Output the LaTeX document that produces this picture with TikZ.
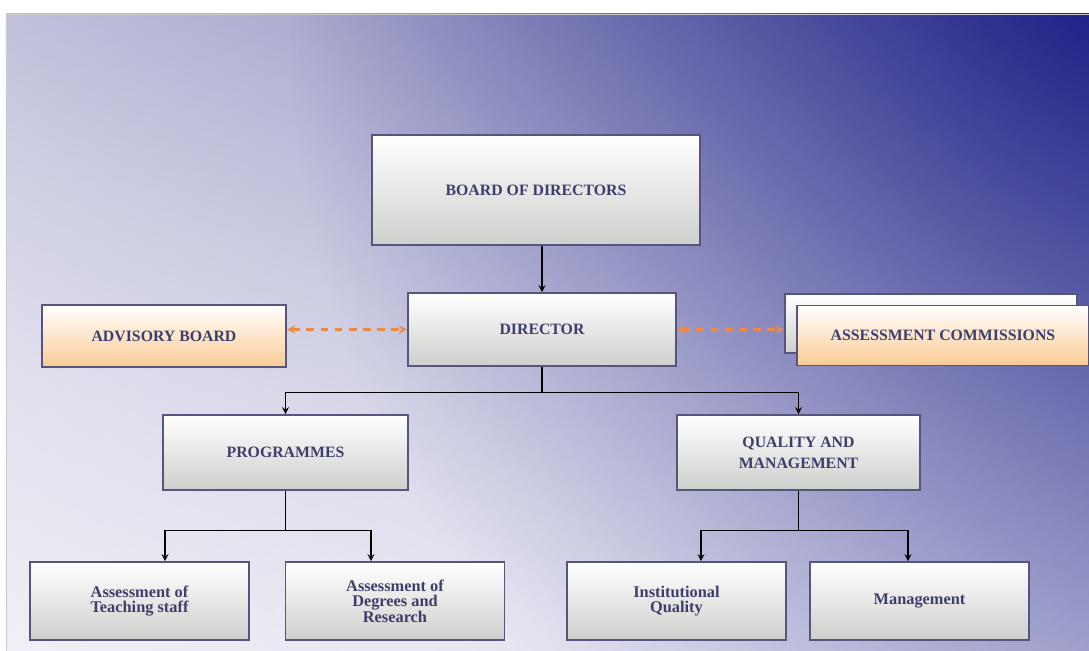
\documentclass[tikz,border=0pt]{standalone}
\usepackage{fontspec}
\setmainfont{Liberation Serif}
\usepackage{xcolor}
\usetikzlibrary{shapes.geometric, arrows, positioning, fadings, shadings}
\definecolor{bgdark}{HTML}{1C1E86}
\definecolor{bgtl}{HTML}{BCBCDA}
\definecolor{bgtr}{HTML}{5C5CA0}
\definecolor{bgbl}{HTML}{EAEAF4}
\definecolor{bgbr}{HTML}{B4B4D8}
\definecolor{boxline}{HTML}{55557E}
\definecolor{boxtext}{HTML}{3E3E6C}
\definecolor{boxgray}{HTML}{CDD0CD}
\definecolor{boxorange}{HTML}{FBCB95}
\definecolor{dashorange}{HTML}{EE8A48}
\tikzfading[name=glowfade, inner color=transparent!0, outer color=transparent!100]

\begin{document}
\begin{tikzpicture}[node distance=2cm]
	\tikzstyle{unit} = [rectangle, text centered, align=center, draw=boxline, line width=0.9pt, top color=white, bottom color=boxgray, text=boxtext, font=\fontsize{9}{12}\selectfont\bfseries]
	\tikzstyle{adviser} = [unit, bottom color=boxorange]
	\tikzstyle{office} = [unit, minimum width=4.38cm, minimum height=1.56cm, font=\fontsize{9.3}{8.8}\selectfont\bfseries]
	\tikzstyle{arrow} = [thick,->,>=stealth]
	\tikzstyle{dasharrow} = [dashorange, line width=1.2pt, dash pattern=on 4.5pt off 3.5pt, <->, >=stealth]

	\useasboundingbox (0,0) rectangle (21.78,-13.02);
	\begin{scope}
		\clip (0.12,-0.28) rectangle (21.78,-13.02);
		\shade[upper left=bgtl, upper right=bgtr, lower left=bgbl, lower right=bgbr] (0.12,-0.28) rectangle (21.78,-13.02);
		\fill[bgdark, path fading=glowfade] (21.78,-0.28) ellipse (16cm and 18cm);
		\fill[white, path fading=glowfade, fill opacity=0.5] (9,-12.5) ellipse (22cm and 16cm);
	\end{scope}
	\draw[black!20] (0.12,-13.02) -- (0.12,-0.28) -- (21.78,-0.28);

	\node (board) [unit, minimum width=6.56cm, minimum height=2.2cm] at (10.72,-3.8) {BOARD OF DIRECTORS};
	\node (director) [unit, minimum width=5.36cm, minimum height=1.46cm, below of=board, xshift=0.12cm, yshift=-0.79cm] {DIRECTOR};
	\node (advisory) [adviser, minimum width=4.88cm, minimum height=1.24cm, left of=director, xshift=-5.56cm, yshift=-0.13cm] {ADVISORY BOARD};
	\node (commback) [unit, minimum width=5.84cm, minimum height=1.18cm, right of=director, xshift=5.78cm, yshift=0.12cm] {};
	\node (commission) [adviser, minimum width=5.84cm, minimum height=1.2cm, right of=commback, xshift=-1.76cm, yshift=-0.24cm] {ASSESSMENT COMMISSIONS};
	\node (prog) [unit, minimum width=4.9cm, minimum height=1.5cm, below of=director, xshift=-5.13cm, yshift=-0.46cm] {PROGRAMMES};
	\node (quality) [unit, minimum width=4.86cm, minimum height=1.5cm, below of=director, xshift=5.13cm, yshift=-0.46cm] {QUALITY AND\\MANAGEMENT};
	\node (teach) [office, below of=prog, xshift=-2.92cm, yshift=-0.97cm] {Assessment of\\Teaching staff};
	\node (degrees) [office, below of=prog, xshift=2.19cm, yshift=-0.97cm] {Assessment of\\Degrees and\\Research};
	\node (inst) [office, below of=quality, xshift=-2.44cm, yshift=-0.97cm] {Institutional\\Quality};
	\node (mgmt) [office, below of=quality, xshift=2.42cm, yshift=-0.97cm] {Management};

	\draw [arrow] (board.south -| director.north) -- (director.north);
	\draw [dasharrow] (advisory.east |- director.west) -- (director.west);
	\draw [dasharrow] (director.east) -- (director.east -| commback.west);
	\draw [arrow] (director.south) -- ++(0,-0.52) -| (prog.north);
	\draw [arrow] (director.south) -- ++(0,-0.52) -| (quality.north);
	\draw [arrow] (prog.south) -- ++(0,-0.8) -| ([xshift=0.51cm]teach.north);
	\draw [arrow] (prog.south) -- ++(0,-0.8) -| ([xshift=-0.48cm]degrees.north);
	\draw [arrow] (quality.south) -- ++(0,-0.8) -| ([xshift=0.49cm]inst.north);
	\draw [arrow] (quality.south) -- ++(0,-0.8) -| ([xshift=-0.23cm]mgmt.north);

\end{tikzpicture}
\end{document}
